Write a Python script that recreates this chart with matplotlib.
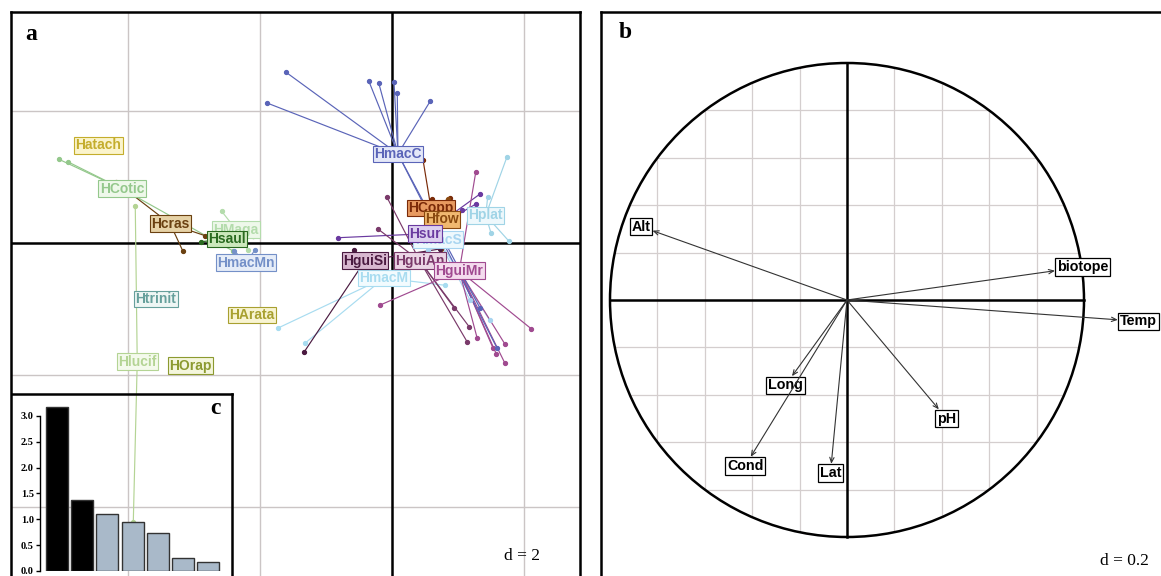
import numpy as np
import matplotlib
matplotlib.use("Agg")
import matplotlib.pyplot as plt
from matplotlib.patches import Circle

# ---------------- data ----------------
# panel a : class labels (centroids) and their sample points (PCA units)
classes = ["Hatach", "HCotic", "Hcras", "HMaga", "Hsaul", "HmacMn", "Htrinit", "HArata",
           "Hlucif", "HOrap", "HmacS", "HmacM", "Hplat", "HCopp", "Hfow", "Hsur",
           "HguiSi", "HguiAn", "HguiMr", "HmacC"]
centers_x = [-4.45, -4.09, -3.36, -2.36, -2.50, -2.21, -3.58, -2.12, -3.86, -3.05,
             0.70, -0.12, 1.42, 0.59, 0.76, 0.50, -0.41, 0.42, 1.02, 0.09]
centers_y = [1.48, 0.82, 0.29, 0.20, 0.06, -0.30, -0.85, -1.09, -1.80, -1.86,
             0.05, -0.53, 0.42, 0.53, 0.36, 0.14, -0.27, -0.27, -0.42, 1.35]
points = {
    "HCotic": [(-5.05, 1.27), (-4.91, 1.23), (-2.41, -0.12)],
    "Hcras": [(-3.17, -0.12), (-4.18, 0.92), (-2.83, 0.11)],
    "HMaga": [(-2.58, 0.48), (-2.18, -0.11)],
    "Hsaul": [(-2.89, 0.02), (-2.11, 0.11)],
    "HmacMn": [(-2.39, -0.12), (-2.08, -0.11)],
    "Hlucif": [(-3.89, 0.56), (-3.92, -4.23)],
    "HmacS": [(1.18, -0.86), (1.48, -1.17), (0.55, -0.11)],
    "HmacM": [(-1.73, -1.29), (-1.32, -1.52), (0.80, -0.64)],
    "Hplat": [(1.74, 1.30), (1.45, 0.70), (1.50, 0.15), (1.77, 0.03)],
    "HCopp": [(0.61, 0.67), (0.88, 0.68), (0.47, 1.26)],
    "Hfow": [(0.85, 0.67), (0.74, -0.09)],
    "Hsur": [(-0.82, 0.08), (1.33, 0.74), (1.27, 0.59), (1.06, 0.50)],
    "HguiSi": [(-0.58, -0.11), (0.73, -0.09), (-1.33, -1.65)],
    "HguiAn": [(0.94, -0.98), (1.17, -1.27), (1.14, -1.50), (-0.08, 0.70), (-0.21, 0.21)],
    "HguiMr": [(1.29, -1.44), (1.53, -1.59), (1.58, -1.68), (1.71, -1.53), (1.71, -1.82),
               (2.11, -1.30), (1.27, 1.08), (-0.18, -0.94)],
    "HmacC": [(-1.61, 2.59), (-1.89, 2.12), (-0.35, 2.45), (-0.20, 2.42), (0.03, 2.44),
              (0.08, 2.27), (0.58, 2.15), (1.33, -0.98), (1.59, -1.59)],
}
text_colors = ["#c4ad2c", "#94c88c", "#6a4010", "#b4dcac", "#2a6a20", "#7490c8", "#66a09c",
               "#a8a030", "#b4d494", "#8c9a30", "#a8d4f0", "#a8dcf0", "#a0d4e6", "#7a2a08",
               "#8a4a10", "#6a3aa0", "#4a1a40", "#7a3a6a", "#a04a90", "#5a64b8"]
fill_colors = ["#fbf4cc", "#eef8ea", "#e6d2a6", "#eef8ea", "#cce8bc", "#e6edf8", "#eef6f4",
               "#f8f4d2", "#f4faec", "#f4f6dc", "#eef8fd", "#f2fbfe", "#eef8fc", "#e89a60",
               "#f0b870", "#ddd0f0", "#d8b8d0", "#ecd6e6", "#f4dcee", "#e4e8f8"]

# panel b : correlation circle, variable label positions
variables = ["Alt", "biotope", "Temp", "Long", "Cond", "Lat", "pH"]
var_x = [-0.87, 0.995, 1.23, -0.26, -0.43, -0.07, 0.42]
var_y = [0.31, 0.14, -0.09, -0.36, -0.70, -0.73, -0.50]

# panel c : eigenvalues
eigenvalues = [3.17, 1.37, 1.10, 0.94, 0.74, 0.245, 0.17]
n_kept = 2
eig_ticks = [0.0, 0.5, 1.0, 1.5, 2.0, 2.5, 3.0]

# ---------------- figure ----------------
W, H = 1161, 576
fig = plt.figure(figsize=(W / 100, H / 100), dpi=100)


def rect(x0, y0, x1, y1):
    """pixel box (top-left origin) -> figure fraction rect"""
    return [x0 / W, 1 - y1 / H, (x1 - x0) / W, (y1 - y0) / H]


sans = ["Liberation Sans", "DejaVu Sans"]
serif = ["Liberation Serif", "DejaVu Serif"]
grid_col = "#cbc5c5"

# ---------- panel a ----------
axa = fig.add_axes(rect(11, 12, 580, 580))
ua = 66.0
axa.set_xlim((11 - 392) / ua, (580 - 392) / ua)
axa.set_ylim((243 - 580) / ua, (243 - 12) / ua)
axa.set_xticks([]); axa.set_yticks([])
for s in ["left", "top", "right"]:
    axa.spines[s].set_linewidth(1.8)
axa.spines["bottom"].set_visible(False)
d_a = 2
for gx in np.arange(-6, 4, d_a):
    if gx != 0:
        axa.axvline(gx, color=grid_col, lw=1.0, zorder=0)
for gy in np.arange(-6, 5, d_a):
    if gy != 0:
        axa.axhline(gy, color=grid_col, lw=1.0, zorder=0)
axa.axvline(0, color="black", lw=1.8, zorder=1)
axa.axhline(0, color="black", lw=1.8, zorder=1)

for i, name in enumerate(classes):
    cx, cy = centers_x[i], centers_y[i]
    col = text_colors[i]
    for (px, py) in points.get(name, []):
        axa.plot([cx, px], [cy, py], color=col, lw=0.85, zorder=2)
        axa.plot(px, py, "o", color=col, ms=2.8, zorder=3)
for i, name in enumerate(classes):
    axa.text(centers_x[i], centers_y[i], name, ha="center", va="center",
             fontsize=10, fontweight="bold", family=sans, color=text_colors[i], zorder=4 + i * 0.01,
             bbox=dict(boxstyle="square,pad=0.1", fc=fill_colors[i], ec=text_colors[i], lw=0.8))
axa.text(31 / W, 1 - 34 / H, "a", transform=fig.transFigure, fontsize=17, fontweight="bold",
         family=serif, ha="center", va="center")
axa.text(522 / W, 1 - 556 / H, "d = 2", transform=fig.transFigure, fontsize=12.5,
         family=serif, ha="center", va="center")

# ---------- inset c ----------
axc_frame = fig.add_axes(rect(12, 394, 232, 590))
axc_frame.patch.set_alpha(0)
axc_frame.set_xticks([]); axc_frame.set_yticks([])
axc_frame.spines["top"].set_linewidth(1.8)
axc_frame.spines["right"].set_linewidth(1.8)
axc_frame.spines["left"].set_visible(False)
axc_frame.spines["bottom"].set_visible(False)

axc = fig.add_axes(rect(40, 394, 232, 571))
axc.patch.set_alpha(0)
u_c = 51.7
axc.set_ylim(0, (571 - 394) / u_c)
axc.set_xlim(-(57 - 40) / 25.2, -(57 - 40) / 25.2 + (232 - 40) / 25.2)
bar_cols = ["black" if k < n_kept else "#a9b9c9" for k in range(len(eigenvalues))]
axc.bar(np.arange(len(eigenvalues)), eigenvalues, width=0.87, color=bar_cols,
        edgecolor="#333333", linewidth=1.0, zorder=3)
for s in ["top", "right", "bottom"]:
    axc.spines[s].set_visible(False)
axc.spines["left"].set_bounds(0, 3)
axc.spines["left"].set_linewidth(1.0)
axc.set_xticks([])
axc.set_yticks(eig_ticks)
axc.set_yticklabels([f"{t:.1f}" for t in eig_ticks], family=serif, fontweight="bold", fontsize=7.5)
axc.tick_params(axis="y", length=3, width=1.0, pad=1.5)
fig.text(215 / W, 1 - 408 / H, "c", fontsize=17, fontweight="bold", family=serif,
         ha="center", va="center")

# ---------- panel b ----------
axb = fig.add_axes(rect(601, 12, 1175, 580))
ub = 237.0
axb.set_xlim((601 - 847) / ub, (1175 - 847) / ub)
axb.set_ylim((300 - 580) / ub, (300 - 12) / ub)
axb.set_xticks([]); axb.set_yticks([])
axb.spines["left"].set_linewidth(1.8)
axb.spines["top"].set_linewidth(1.8)
axb.spines["right"].set_visible(False)
axb.spines["bottom"].set_visible(False)

circ = Circle((0, 0), 1.0, fill=False, ec="black", lw=1.8, zorder=3)
axb.add_patch(circ)
clip = Circle((0, 0), 1.0, transform=axb.transData)
d_b = 0.2
for g in np.arange(-1.0, 1.01, d_b):
    if abs(g) < 1e-9 or abs(abs(g) - 1) < 1e-9:
        continue
    l1, = axb.plot([g, g], [-1, 1], color="#d4cece", lw=0.9, zorder=1)
    l2, = axb.plot([-1, 1], [g, g], color="#d4cece", lw=0.9, zorder=1)
    l1.set_clip_path(clip); l2.set_clip_path(clip)
axb.plot([0, 0], [-1, 1], color="black", lw=1.8, zorder=2)
axb.plot([-1, 1], [0, 0], color="black", lw=1.8, zorder=2)

for name, vx, vy in zip(variables, var_x, var_y):
    axb.annotate(name, xy=(0, 0), xytext=(vx, vy), ha="center", va="center",
                 fontsize=10.3, fontweight="bold", family=sans, color="black", zorder=5,
                 bbox=dict(boxstyle="square,pad=0.12", fc="white", ec="black", lw=0.9),
                 arrowprops=dict(arrowstyle="<-,head_length=0.35,head_width=0.15",
                                 color="#333333", lw=0.8, shrinkA=0, shrinkB=0))
fig.text(625 / W, 1 - 33 / H, "b", fontsize=17, fontweight="bold", family=serif,
         ha="center", va="center")
fig.text(1124 / W, 1 - 561 / H, "d = 0.2", fontsize=12.5, family=serif,
         ha="center", va="center")

fig.savefig("out.png", dpi=100)
